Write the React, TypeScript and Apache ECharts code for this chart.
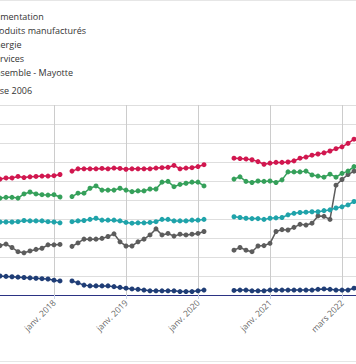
import { useEffect, useRef } from 'react';
import * as echarts from 'echarts';

const categories = [
  'avr. 2017', 'mai 2017', 'juin 2017', 'juil. 2017', 'août 2017', 'sept. 2017', 'oct. 2017', 'nov. 2017', 'déc. 2017',
  'janv. 2018', 'févr. 2018', 'mars 2018', 'avr. 2018', 'mai 2018', 'juin 2018', 'juil. 2018', 'août 2018', 'sept. 2018', 'oct. 2018', 'nov. 2018', 'déc. 2018',
  'janv. 2019', 'févr. 2019', 'mars 2019', 'avr. 2019', 'mai 2019', 'juin 2019', 'juil. 2019', 'août 2019', 'sept. 2019', 'oct. 2019', 'nov. 2019', 'déc. 2019',
  'janv. 2020', 'févr. 2020', 'mars 2020', 'avr. 2020', 'mai 2020', 'juin 2020', 'juil. 2020', 'août 2020', 'sept. 2020', 'oct. 2020', 'nov. 2020', 'déc. 2020',
  'janv. 2021', 'févr. 2021', 'mars 2021', 'avr. 2021', 'mai 2021', 'juin 2021', 'juil. 2021', 'août 2021', 'nov. 2021', 'déc. 2021',
  'janv. 2022', 'févr. 2022', 'mars 2022', 'avr. 2022', 'mai 2022', 'juin 2022',
];

const alimentation = [
  120.5, 120.8, 120.8, 121.2, 120.9, 121.1, 121.2, 121.3, 121.3, 121.4, 121.7,
  null,
  122.6, 123.2, 123.2, 123.2, 123.2, 123.3, 123.2, 123.4, 123.3, 123.1, 123.2, 123.2, 123.2, 123.2, 123.4, 123.5, 123.6, 124.1, 123.2, 123.4, 123.5, 123.8, 124.3,
  null, null, null, null,
  126.0, 125.9, 125.8, 125.6, 125.1, 124.4, 124.7, 124.9, 124.9, 125.0, 125.3, 126.0, 126.3, 126.8, 127.1, 127.4, 127.9, 128.5, 129.0, 129.9, 131.0,
  null,
];

const produitsManufactures = [
  95.0, 94.9, 94.8, 94.7, 94.6, 94.5, 94.4, 94.3, 94.2, 93.9, 93.7,
  null,
  93.7, 93.2, 92.6, 92.4, 92.4, 92.4, 92.4, 92.2, 92.0, 91.8, 91.6, 91.5, 91.3, 91.1, 91.1, 91.1, 91.1, 91.1, 90.9, 90.9, 90.9, 91.1, 91.3,
  null, null, null, null,
  91.2, 91.3, 91.3, 91.1, 91.1, 91.1, 91.3, 91.3, 91.3, 91.3, 91.3, 91.3, 91.3, 91.3, 91.5, 91.6, 91.5, 91.3, 91.3, 91.3, 91.8,
  null,
];

const energie = [
  103.0, 103.4, 102.5, 101.4, 101.1, 101.6, 102.0, 102.3, 103.2, 103.2, 103.3,
  null,
  102.8, 103.7, 104.7, 104.7, 104.7, 104.9, 105.4, 106.1, 104.0, 102.9, 102.9, 104.0, 104.7, 105.8, 107.4, 105.8, 106.2, 105.5, 106.0, 105.8, 106.0, 106.2, 106.7,
  null, null, null, null,
  101.8, 102.5, 101.8, 101.4, 102.9, 103.0, 103.6, 106.7, 107.2, 107.1, 107.8, 108.6, 108.4, 108.9, 110.8, 110.7, 109.9, 118.9, 120.4, 121.7, 122.6,
  null,
];

const services = [
  115.5, 115.7, 115.7, 115.5, 116.6, 117.1, 116.6, 116.4, 116.3, 116.4, 115.8,
  null,
  115.9, 116.8, 116.8, 118.1, 118.7, 117.6, 117.6, 117.6, 118.1, 117.6, 117.2, 117.4, 117.4, 117.9, 117.9, 119.7, 119.9, 118.5, 119.1, 119.4, 119.7, 119.7, 118.7,
  null, null, null, null,
  120.5, 121.1, 119.9, 119.6, 120.0, 119.9, 120.0, 119.6, 120.3, 122.4, 122.4, 122.4, 122.6, 121.6, 121.3, 121.0, 121.8, 121.0, 122.0, 122.6, 123.8,
  null,
];

const ensemble = [
  109.2, 109.2, 109.2, 109.3, 109.6, 109.5, 109.5, 109.5, 109.3, 109.2, 109.0,
  null,
  109.3, 109.5, 109.6, 109.9, 110.2, 109.7, 109.7, 109.7, 109.5, 109.1, 108.9, 109.0, 109.0, 109.1, 109.3, 109.9, 109.9, 109.5, 109.5, 109.5, 109.7, 109.7, 109.9,
  null, null, null, null,
  110.6, 110.4, 110.2, 110.1, 110.1, 109.9, 110.2, 110.3, 110.4, 111.1, 111.5, 111.7, 111.8, 111.9, 111.9, 112.2, 112.4, 112.9, 113.2, 113.7, 114.6,
  null,
];

const seriesNames = ['Alimentation', 'Produits manufacturés', 'Énergie', 'Services', 'Ensemble - Mayotte'];
const seriesData = [alimentation, produitsManufactures, energie, services, ensemble];
const seriesColors = ['#d1174f', '#1f3d76', '#5c5c5c', '#35a05a', '#1fa3aa'];
const yTitle = 'Base 2006';

const FONT = '"Open Sans", sans-serif';
const shown = (index: number) => index % 12 === 9;

export default function App() {
  const ref = useRef<HTMLDivElement>(null);
  useEffect(() => {
    const chart = echarts.init(ref.current!, null, { renderer: 'svg' });
    chart.setOption({
      animation: false,
      backgroundColor: '#ffffff',
      textStyle: { fontFamily: FONT },
      title: {
        text: yTitle,
        left: 39,
        top: 86,
        padding: 0,
        textStyle: { fontSize: 9, fontWeight: 'normal', color: '#333333', fontFamily: FONT },
      },
      legend: {
        data: seriesNames,
        orient: 'vertical',
        left: 20,
        top: 12,
        padding: 0,
        itemGap: 5,
        itemWidth: 14,
        itemHeight: 8,
        textStyle: { fontSize: 9, color: '#333333', fontFamily: FONT },
      },
      grid: { left: 50, top: 105, width: 360, height: 190, containLabel: false },
      xAxis: {
        type: 'category',
        data: categories,
        boundaryGap: false,
        axisLine: { show: true, lineStyle: { color: '#2b3384', width: 1 } },
        axisTick: { show: true, interval: shown, length: 4, lineStyle: { color: '#ccd6eb' } },
        splitLine: { show: true, interval: shown, lineStyle: { color: '#cccccc', width: 1 } },
        axisLabel: {
          interval: shown,
          rotate: 45,
          margin: 6,
          fontSize: 8.5,
          color: '#666666',
          fontFamily: FONT,
        },
      },
      yAxis: {
        type: 'value',
        min: 90,
        max: 140,
        interval: 5,
        axisLine: { show: false },
        axisTick: { show: false },
        axisLabel: { show: false },
        splitLine: { show: true, lineStyle: { color: '#dedede', width: 1 } },
      },
      graphic: [
        { type: 'line', shape: { x1: 0, y1: 0.5, x2: 430, y2: 0.5 }, style: { stroke: '#e6e6e6', lineWidth: 1 } },
        { type: 'line', shape: { x1: 0, y1: 361.5, x2: 430, y2: 361.5 }, style: { stroke: '#e6e6e6', lineWidth: 1 } },
      ],
      series: seriesNames.map((name, i) => ({
        name,
        type: 'line',
        data: seriesData[i],
        connectNulls: false,
        symbol: 'circle',
        symbolSize: 5,
        showSymbol: true,
        showAllSymbol: true,
        lineStyle: { width: 1.5, color: seriesColors[i] },
        itemStyle: { color: seriesColors[i] },
        emphasis: { disabled: true },
      })),
    });
    return () => chart.dispose();
  }, []);
  return (
    <div
      style={{
        position: 'fixed',
        left: 0,
        top: 0,
        width: 356,
        height: 364,
        overflow: 'hidden',
        background: '#ffffff',
      }}
    >
      <div ref={ref} style={{ position: 'absolute', left: -50, top: 0, width: 430, height: 364 }} />
    </div>
  );
}
